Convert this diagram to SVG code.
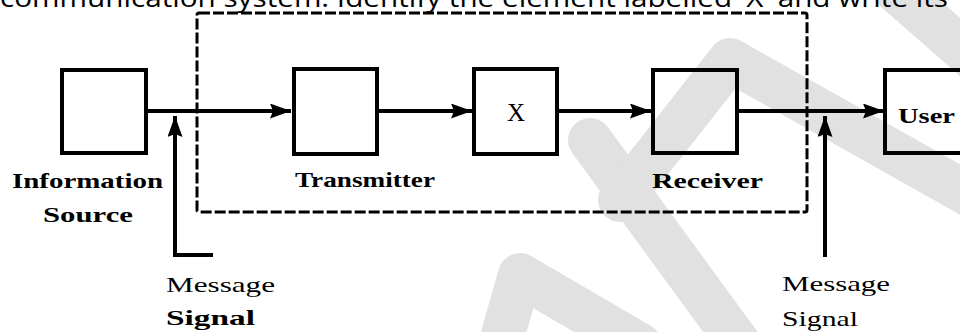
<svg xmlns="http://www.w3.org/2000/svg" width="960" height="332" viewBox="0 0 960 332">
  <style>
    .box { fill: none; stroke: #000; stroke-width: 4; }
    .wire { fill: none; stroke: #000; stroke-width: 4; }
    .frame { fill: none; stroke: #000; stroke-width: 3; stroke-dasharray: 11 3; }
    .lbl { font-family: "Liberation Serif", "Times New Roman", serif; font-size: 22px; fill: #000; }
    .b { font-weight: bold; }
    .head { font-family: "Open Sans", "Liberation Sans", sans-serif; font-size: 25px; fill: #000; }
    .wm { fill: none; stroke: #e1e1e1; stroke-width: 44; stroke-linecap: round; stroke-linejoin: round; }
  </style>
  <defs>
    <marker id="arrow" markerUnits="userSpaceOnUse" markerWidth="24" markerHeight="16" refX="21" refY="7.5" orient="auto">
      <path d="M0,0 L21,7.5 L0,15 L3,7.5 z" fill="#000"/>
    </marker>
  </defs>

  <rect width="960" height="332" fill="#fff"/>

  <!-- background watermark strokes -->
  <g id="watermark">
    <polyline class="wm" points="500,345 520,275 640,345"/>
    <polyline class="wm" points="590,140 740,345"/>
    <polyline class="wm" points="620,200 730,60 970,195"/>
    <polyline class="wm" points="895,-10 975,60"/>
  </g>

  <!-- question line, running off the top edge -->
  <text class="head" x="0" y="7" textLength="948" lengthAdjust="spacingAndGlyphs">communication system. Identify the element labelled 'X' and write its</text>

  <!-- communication channel boundary -->
  <g id="channel-boundary">
    <rect class="frame" x="197" y="13" width="610" height="199" rx="2"/>
  </g>

  <g id="connectors">
    <line class="wire" x1="148" y1="111" x2="291" y2="111" marker-end="url(#arrow)"/>
    <line class="wire" x1="379" y1="111" x2="472" y2="111" marker-end="url(#arrow)"/>
    <line class="wire" x1="559" y1="111" x2="651" y2="111" marker-end="url(#arrow)"/>
    <line class="wire" x1="739" y1="111" x2="884" y2="111" marker-end="url(#arrow)"/>
    <polyline class="wire" points="213,255 175,255 175,116" marker-end="url(#arrow)"/>
    <line class="wire" x1="825" y1="257" x2="825" y2="116" marker-end="url(#arrow)"/>
  </g>

  <g id="information-source">
    <rect class="box" x="62" y="70" width="84" height="83"/>
    <text class="lbl b" x="12" y="188" textLength="151" lengthAdjust="spacingAndGlyphs">Information</text>
    <text class="lbl b" x="43" y="222" textLength="90" lengthAdjust="spacingAndGlyphs">Source</text>
  </g>

  <g id="transmitter">
    <rect class="box" x="294" y="69" width="83" height="85"/>
    <text class="lbl b" x="295" y="187" textLength="140" lengthAdjust="spacingAndGlyphs">Transmitter</text>
  </g>

  <g id="element-x">
    <rect class="box" x="474" y="69" width="83" height="85"/>
    <text class="lbl" x="516" y="121" text-anchor="middle" style="font-size:25px">X</text>
  </g>

  <g id="receiver">
    <rect class="box" x="653" y="70" width="84" height="83"/>
    <text class="lbl b" x="652" y="188" textLength="111" lengthAdjust="spacingAndGlyphs">Receiver</text>
  </g>

  <g id="user">
    <rect class="box" x="885" y="70" width="100" height="83"/>
    <text class="lbl b" x="898" y="123" textLength="57" lengthAdjust="spacingAndGlyphs">User</text>
  </g>

  <g id="message-signal-in">
    <text class="lbl" x="166" y="292" textLength="109" lengthAdjust="spacingAndGlyphs">Message</text>
    <text class="lbl b" x="166" y="325" textLength="89" lengthAdjust="spacingAndGlyphs">Signal</text>
  </g>

  <g id="message-signal-out">
    <text class="lbl" x="782" y="291" textLength="108" lengthAdjust="spacingAndGlyphs">Message</text>
    <text class="lbl" x="782" y="326" textLength="76" lengthAdjust="spacingAndGlyphs">Signal</text>
  </g>
</svg>
